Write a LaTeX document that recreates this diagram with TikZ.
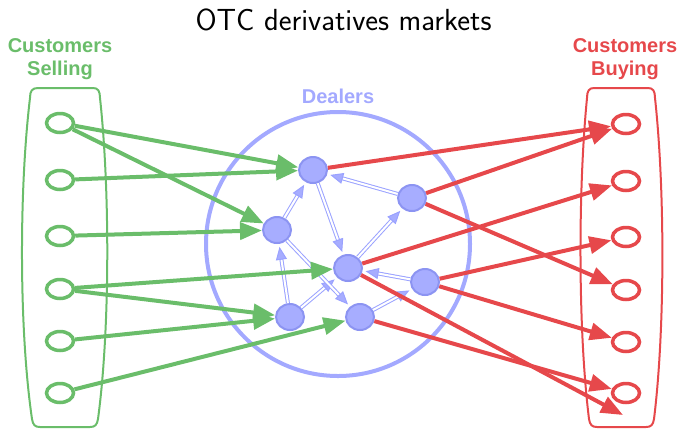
\documentclass[tikz,border=0pt]{standalone}
\usepackage{fontspec}
\usetikzlibrary{arrows.meta,shapes.geometric}
\newfontfamily\labelfont{Liberation Sans}
\definecolor{cgreen}{HTML}{6ABD6A}
\definecolor{cred}{HTML}{E6484B}
\definecolor{cblue}{HTML}{A3A9FF}
\definecolor{dfill}{HTML}{A7ADFF}
\definecolor{dedge}{HTML}{8C94F2}
\definecolor{dline}{HTML}{9AA2FF}
\begin{document}
\begin{tikzpicture}[x=1pt,y=-1pt,
  cust/.style={ellipse, draw, line width=3.5pt, fill=white, minimum width=27pt, minimum height=19pt, inner sep=0pt},
  dealer/.style={ellipse, draw=dedge, line width=2pt, fill=dfill, minimum width=28pt, minimum height=26pt, inner sep=0pt},
  gflow/.style={draw=cgreen, line width=4pt, -{Triangle[length=22pt,width=17pt]}},
  rflow/.style={draw=cred, line width=4pt, -{Triangle[length=22pt,width=17pt]}},
  link/.style={draw=dline, line width=1pt, double=white, double distance=2pt, -{Triangle[length=13pt,width=11pt,fill=dfill]}, shorten >=3pt},
  grouplabel/.style={font=\labelfont\bfseries\fontsize{20}{23}\selectfont, align=center, inner sep=0pt, anchor=north},
  groupbox/.style={line width=2pt}
]
\useasboundingbox (0,0) rectangle (679,429);

% title
\node[anchor=base, font=\sffamily\fontsize{30.5}{36}\selectfont, inner sep=0pt] (title) at (343.5,30) {OTC derivatives markets};

% group labels
\node[grouplabel, text=cgreen] (sellinglabel) at (60,38.5) {Customers\\Selling};
\node[grouplabel, text=cred] (buyinglabel) at (625,38.5) {Customers\\Buying};
\node[anchor=base, font=\labelfont\bfseries\fontsize{20}{23}\selectfont, text=cblue, inner sep=0pt] (dealerlabel) at (338,103) {Dealers};

% dealer circle
\draw[cblue, line width=4pt] (338,244) circle[radius=132];

% left box
\draw[groupbox, cgreen] (38,88) -- (93,88) .. controls (98,88) and (100,91) .. (100,98)
  .. controls (110,190) and (110,330) .. (98,419) .. controls (97,425) and (95,427) .. (90,427)
  -- (40,427) .. controls (35,427) and (33,425) .. (32,419)
  .. controls (19,330) and (19,190) .. (30,98) .. controls (30,91) and (32,88) .. (38,88) -- cycle;
% right box
\draw[groupbox, cred] (594,88) -- (648,88) .. controls (653,88) and (655,91) .. (655,98)
  .. controls (665,190) and (665,330) .. (654,419) .. controls (653,425) and (651,427) .. (646,427)
  -- (597,427) .. controls (592,427) and (590,425) .. (589,419)
  .. controls (578,330) and (578,190) .. (587,98) .. controls (587,91) and (589,88) .. (594,88) -- cycle;

% customers selling
\node[cust, draw=cgreen] (L1) at (60,123) {};
\node[cust, draw=cgreen] (L2) at (60,180) {};
\node[cust, draw=cgreen] (L3) at (60,236) {};
\node[cust, draw=cgreen] (L4) at (60,289) {};
\node[cust, draw=cgreen] (L5) at (60,341) {};
\node[cust, draw=cgreen] (L6) at (60,393) {};

% customers buying
\node[cust, draw=cred] (R1) at (626,124) {};
\node[cust, draw=cred] (R2) at (626,181) {};
\node[cust, draw=cred] (R3) at (626,237) {};
\node[cust, draw=cred] (R4) at (626,290) {};
\node[cust, draw=cred] (R5) at (626,342) {};
\node[cust, draw=cred] (R6) at (626,393) {};
\coordinate (F) at (623,415);

% dealers
\node[dealer] (D1) at (313,170) {};
\node[dealer] (D2) at (412,198) {};
\node[dealer] (D3) at (277,230) {};
\node[dealer] (D4) at (348,268) {};
\node[dealer] (D5) at (425,282) {};
\node[dealer] (D6) at (290,317) {};
\node[dealer] (D7) at (360,317) {};

% inter-dealer links
\draw[link] (D2) -- (D1);
\draw[link] (D3) -- (D1);
\draw[link] (D1) -- (D4);
\draw[link] (D4) -- (D2);
\draw[link] (D5) -- (D4);
\draw[link] (D6) -- (D3);
\draw[link] (D6) -- (D4);
\draw[link] (D3) -- (D7);
\draw[link] (D7) -- (D5);

% selling flows
\draw[gflow] (L1) -- (D1);
\draw[gflow] (L1) -- (D3);
\draw[gflow] (L2) -- (D1);
\draw[gflow] (L3) -- (D3);
\draw[gflow] (L4) -- (D4);
\draw[gflow] (L4) -- (D6);
\draw[gflow] (L5) -- (D6);
\draw[gflow] (L6) -- (D7);

% buying flows
\draw[rflow] (D1) -- (R1);
\draw[rflow] (D2) -- (R1);
\draw[rflow] (D2) -- (R4);
\draw[rflow] (D4) -- (R2);
\draw[rflow] (D4) -- (F);
\draw[rflow] (D5) -- (R3);
\draw[rflow] (D5) -- (R5);
\draw[rflow] (D7) -- (R6);
\end{tikzpicture}
\end{document}
